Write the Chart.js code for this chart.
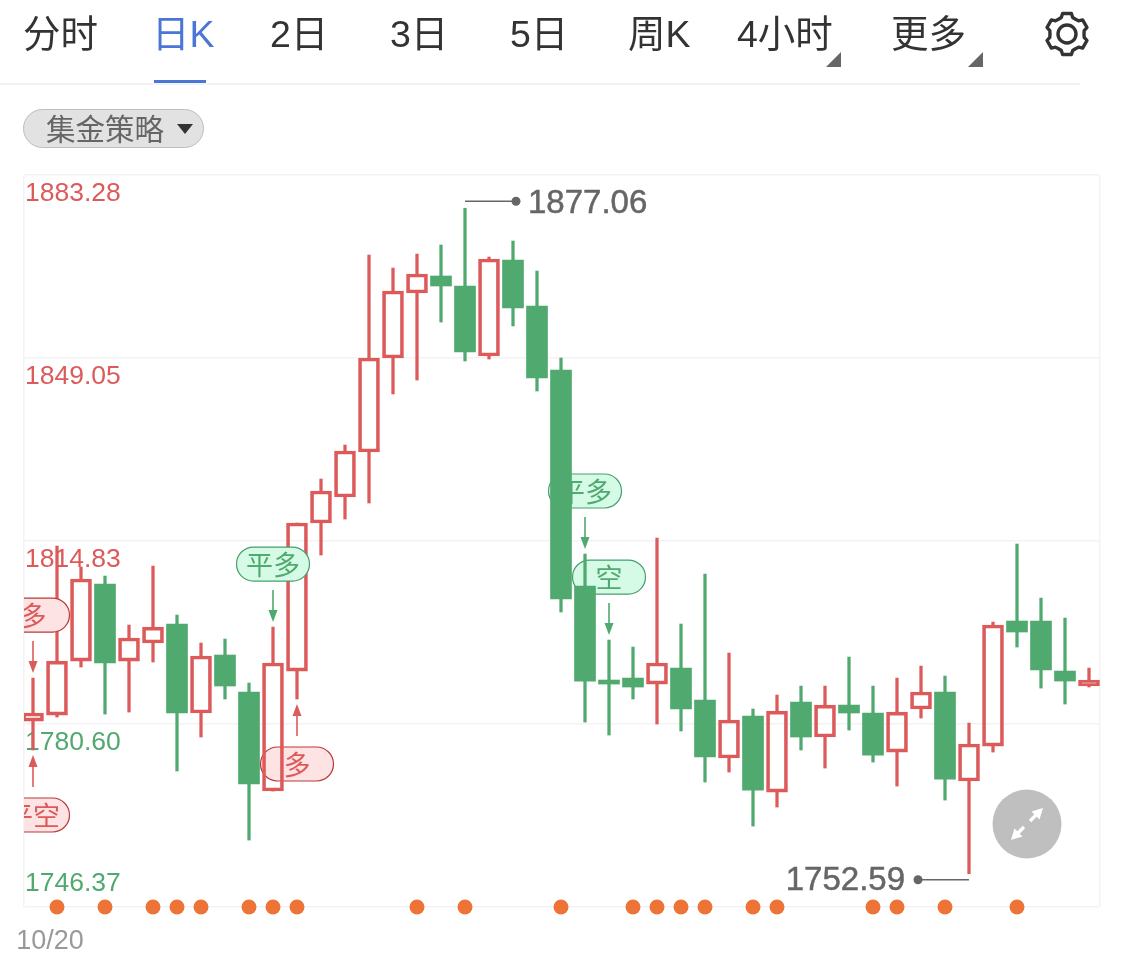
<!DOCTYPE html>
<html lang="zh">
<head>
<meta charset="utf-8">
<title>日K</title>
<script src="https://cdn.jsdelivr.net/npm/chart.js@4/dist/chart.umd.min.js"></script>
<style>
html,body{margin:0;padding:0;background:#fff;width:1125px;height:964px;overflow:hidden}
#wrap{position:relative;width:1125px;height:964px;font-family:"Liberation Sans","Noto Sans CJK SC",sans-serif}
canvas{position:absolute;left:0;top:0}
.tab{position:absolute;top:12px;font-size:37.5px;line-height:44px;color:#333;white-space:nowrap}
.tab.on{color:#4a76d6}
#bar{position:absolute;left:154px;top:80px;width:52px;height:3px;background:#4a76d6}
#sep{position:absolute;left:0;top:83px;width:1080px;height:2px;background:#f2f2f2}
.tri{position:absolute;width:15px;height:15px;background:#666;clip-path:polygon(100% 0,100% 100%,0 100%)}
#pill{position:absolute;left:23px;top:109px;width:179px;height:37px;border:1px solid #bdbdbd;border-radius:20px;background:#e2e2e2;color:#666;font-size:29.5px;line-height:39px}
#pill span{position:absolute;left:22px;top:0;white-space:nowrap}
#pill i{position:absolute;left:153px;top:14px;width:0;height:0;border-left:8px solid transparent;border-right:8px solid transparent;border-top:10px solid #333}
svg{position:absolute;left:0;top:0;pointer-events:none}
</style>
</head>
<body>
<div id="wrap">
  <canvas id="c" width="1125" height="964"></canvas>
  <div class="tab" style="left:23px">分时</div>
  <div class="tab on" style="left:152px">日K</div>
  <div class="tab" style="left:270px">2日</div>
  <div class="tab" style="left:390px">3日</div>
  <div class="tab" style="left:510px">5日</div>
  <div class="tab" style="left:628px">周K</div>
  <div class="tab" style="left:737px">4小时</div>
  <div class="tab" style="left:891px">更多</div>
  <div class="tri" style="left:826px;top:52px"></div>
  <div class="tri" style="left:968px;top:52px"></div>
  <div id="bar"></div><div id="sep"></div>
  <div id="pill"><span>集金策略</span><i></i></div>
  <svg width="1125" height="964" id="ic">
    <circle cx="1067" cy="34" r="9" fill="none" stroke="#333" stroke-width="3.4"/>
    <path id="gear" fill="none" stroke="#333" stroke-width="3.4" stroke-linejoin="round"/>
    <circle cx="1027" cy="824" r="34.5" fill="#bfbfbf"/>
    <line x1="1030" y1="821" x2="1037" y2="814" stroke="#fff" stroke-width="3.4"/>
    <line x1="1024" y1="827" x2="1017" y2="834" stroke="#fff" stroke-width="3.4"/>
    <polygon points="1043,808 1039.5,819.5 1031.5,811.5" fill="#fff"/>
    <polygon points="1011,840 1014.5,828.5 1022.5,836.5" fill="#fff"/>
  </svg>
</div>
<script>
// Daily candles
const opens  = [1781.15,1782.27,1792.37,1806.78,1792.37,1795.74,1799.30,1782.65,1793.50,1786.58,1768.06,1790.50,1818.19,1823.05,1831.47,1849.05,1861.21,1864.39,1862.52,1849.42,1867.38,1858.78,1846.81,1806.40,1788.82,1789.19,1788.07,1791.06,1785.08,1774.23,1782.09,1767.87,1784.70,1778.16,1784.14,1782.65,1775.35,1783.40,1786.58,1769.93,1776.47,1799.86,1799.86,1790.50,1787.70];
const closes = [1782.65,1792.37,1807.71,1792.00,1796.68,1798.73,1782.65,1793.31,1787.70,1769.37,1792.00,1818.19,1824.17,1831.65,1849.05,1861.58,1864.76,1862.52,1850.17,1867.57,1858.40,1845.31,1803.97,1788.63,1788.07,1787.51,1792.00,1783.40,1774.42,1781.34,1768.24,1783.02,1778.16,1784.14,1782.65,1774.79,1782.83,1786.58,1770.30,1776.85,1799.11,1797.80,1790.69,1788.63,1788.82];
const highs  = [1789.19,1813.88,1809.96,1808.27,1799.11,1810.14,1800.98,1795.74,1796.49,1788.26,1798.73,1818.19,1826.42,1832.78,1868.32,1865.88,1868.50,1870.19,1877.06,1867.94,1870.93,1865.32,1849.05,1812.39,1796.30,1794.99,1815.38,1799.30,1808.65,1793.87,1783.40,1786.01,1787.70,1787.70,1793.12,1787.70,1789.19,1791.44,1789.57,1780.78,1799.67,1814.26,1804.16,1800.42,1791.06];
const lows   = [1775.73,1781.90,1791.25,1782.46,1782.83,1792.19,1771.80,1778.16,1785.27,1758.89,1768.06,1785.27,1812.20,1818.93,1821.93,1842.32,1844.93,1855.78,1848.49,1848.86,1855.04,1842.88,1801.54,1780.96,1778.53,1785.27,1780.59,1779.28,1769.74,1771.61,1761.51,1765.06,1775.73,1772.36,1779.47,1773.48,1768.99,1781.71,1766.37,1752.59,1775.35,1794.99,1787.32,1784.33,1787.51];
const categories = ['10/20'];
const tickLabels = [1883.28,1849.05,1814.83,1780.60,1746.37];
const markerIndices = [1,3,5,6,7,9,10,11,16,18,22,25,26,27,28,30,31,35,36,38,41];
const signalIndices = [0,0,10,11,23,24];
const signalTexts   = ['多','平空','平多','多','平多','空'];
const highIndex = 18, lowIndex = 39;

const RED='#dc5a5a', GREEN='#50a96e', GRID='#f3f3f3', GREY='#666666';
const idx = opens.map((_,i)=>i);
const up = idx.filter(i=>closes[i]>=opens[i]);
const down = idx.filter(i=>closes[i]<opens[i]);
const upper = i=>({x:i,y:[Math.max(opens[i],closes[i]),highs[i]]});
const lower = i=>({x:i,y:[lows[i],Math.min(opens[i],closes[i])]});
const body  = i=>({x:i,y:[Math.min(opens[i],closes[i]),Math.max(opens[i],closes[i])]});
const barDs = (data,color,thick,fill,bw,order)=>({type:'bar',data,grouped:false,barThickness:thick,backgroundColor:fill,borderColor:color,borderWidth:bw,borderSkipped:false,order,minBarLength:0});

// gear icon
(function(){
  let d='';const cx=1067,cy=34;
  for(let k=0;k<6;k++){
    const a=(k*60-90)*Math.PI/180, s=Math.PI/180;
    [[17,-30],[17.5,-19],[21,-12],[21,12],[17.5,19]].forEach(([r,o])=>{
      const t=a+o*s; d+=(d?'L':'M')+(cx+r*Math.cos(t)).toFixed(1)+' '+(cy+r*Math.sin(t)).toFixed(1);
    });
  }
  document.getElementById('gear').setAttribute('d',d+'Z');
})();

function pill(ctx,area,cx,cy,text,rising){
  ctx.save();
  ctx.beginPath();ctx.rect(area.left,area.top,area.right-area.left,area.bottom-area.top);ctx.clip();
  ctx.beginPath();ctx.roundRect(cx-36.5,cy-17,73,34,17);
  ctx.fillStyle=rising?'#fde3e3':'#d5fbe6';ctx.fill();
  ctx.lineWidth=1.2;ctx.strokeStyle=rising?'#b83a3a':'#46a06a';ctx.stroke();
  ctx.fillStyle=rising?RED:GREEN;
  ctx.font='27px "Noto Sans CJK SC"';ctx.textAlign='center';ctx.textBaseline='middle';
  ctx.fillText(text,cx,cy+1);
  ctx.restore();
}
function arrow(ctx,x,tail,tip,color){
  const dir=tip>tail?1:-1;
  ctx.save();ctx.strokeStyle=color;ctx.fillStyle=color;ctx.lineWidth=1.6;
  ctx.beginPath();ctx.moveTo(x,tail);ctx.lineTo(x,tip-dir*10);ctx.stroke();
  ctx.beginPath();ctx.moveTo(x,tip);ctx.lineTo(x-4.5,tip-dir*12);ctx.lineTo(x+4.5,tip-dir*12);ctx.closePath();ctx.fill();
  ctx.restore();
}
function eachSignal(chart,fn){
  const {x,y}=chart.scales;
  signalIndices.forEach((i,n)=>{
    const text=signalTexts[n];
    const rising=n===0||n===1||n===3;
    const above=n===0||n===2||n===4||n===5;
    const base=y.getPixelForValue(above?highs[i]:lows[i]);
    const front=n===0||n===2;
    fn({cx:x.getPixelForValue(i),base,above,rising,text,front});
  });
}
function note(ctx,xPix,yPix,value,textRight){
  ctx.save();
  ctx.strokeStyle=GREY;ctx.fillStyle=GREY;ctx.lineWidth=1.4;
  const end=textRight?xPix+51:xPix-51;
  ctx.beginPath();ctx.moveTo(xPix,yPix);ctx.lineTo(end,yPix);ctx.stroke();
  ctx.beginPath();ctx.arc(end,yPix,4.5,0,Math.PI*2);ctx.fill();
  ctx.font='33px "Liberation Sans"';ctx.textBaseline='middle';
  ctx.textAlign=textRight?'left':'right';
  const tx=textRight?end+12:end-13, ty=yPix+(textRight?3:1);
  ctx.fillText(value.toFixed(2),tx,ty);
  ctx.lineWidth=0.5;ctx.strokeText(value.toFixed(2),tx,ty);
  ctx.restore();
}
const overlay={
  id:'overlay',
  beforeDatasetsDraw(chart){
    eachSignal(chart,s=>{
      if(!s.front) pill(chart.ctx,chart.chartArea,s.cx,s.base+(s.above?-63:65),s.text,s.rising);
    });
  },
  afterDatasetsDraw(chart){
    const {ctx,chartArea}=chart,{x,y}=chart.scales;
    eachSignal(chart,s=>{
      if(s.front) pill(ctx,chartArea,s.cx,s.base+(s.above?-63:65),s.text,s.rising);
      const color=s.rising?RED:GREEN;
      if(s.above) arrow(ctx,s.cx,s.base-37,s.base-5,color);
      else arrow(ctx,s.cx,s.base+37,s.base+5,color);
    });
    note(ctx,x.getPixelForValue(highIndex),y.getPixelForValue(highs[highIndex])-7,highs[highIndex],true);
    note(ctx,x.getPixelForValue(lowIndex),y.getPixelForValue(lows[lowIndex])+6,lows[lowIndex],false);
  }
};

const xMin=-0.375,xMax=44.458,yMin=tickLabels[4],yMax=tickLabels[0];
const axisFont={size:26.5,family:'"Liberation Sans"'};
new Chart(document.getElementById('c'),{
  data:{datasets:[
    {type:'line',data:markerIndices.map(i=>({x:i,y:yMin})),showLine:false,pointRadius:7.5,pointHoverRadius:7.5,pointBackgroundColor:'#ee7336',pointBorderWidth:0,clip:false,order:0},
    barDs(up.map(body),RED,21,'transparent',3,1),
    barDs(down.map(body),GREEN,21,GREEN,0,1),
    barDs(up.map(upper),RED,2.6,RED,0,2),
    barDs(up.map(lower),RED,2.6,RED,0,2),
    barDs(down.map(upper),GREEN,2.6,GREEN,0,2),
    barDs(down.map(lower),GREEN,2.6,GREEN,0,2)
  ]},
  options:{
    responsive:false,animation:false,
    layout:{padding:{left:24,right:25,top:175,bottom:0}},
    plugins:{legend:{display:false},tooltip:{enabled:false},title:{display:false}},
    scales:{
      x:{type:'linear',min:xMin,max:xMax,offset:false,
        afterBuildTicks:s=>{s.ticks=[{value:xMin},{value:0},{value:xMax}];},
        afterFit:s=>{s.height=57;},
        border:{display:false},
        grid:{offset:false,drawTicks:false,lineWidth:1.5,color:c=>c.tick&&c.tick.value===0?'transparent':GRID},
        ticks:{autoSkip:false,maxRotation:0,padding:18,labelOffset:17,color:'#999',font:{size:27,family:'"Liberation Sans"'},
          callback:v=>v===0?categories[0]:''}
      },
      y:{type:'linear',position:'left',min:yMin,max:yMax,
        afterBuildTicks:s=>{s.ticks=tickLabels.slice(0,4).map(v=>({value:v})).concat([{value:yMin}]);},
        afterFit:s=>{s.width=0;},
        border:{display:false},
        grid:{drawTicks:false,lineWidth:1.5,color:GRID},
        ticks:{mirror:true,padding:1,labelOffset:19,autoSkip:false,font:axisFont,
          color:c=>c.tick.value>1800?RED:GREEN,
          callback:v=>v===yMin?'':v.toFixed(2)}
      },
      y2:{type:'linear',position:'left',min:yMin,max:yMax,
        afterBuildTicks:s=>{s.ticks=[{value:yMin}];},
        afterFit:s=>{s.width=0;},
        border:{display:false},
        grid:{display:false,drawTicks:false},
        ticks:{mirror:true,padding:1,labelOffset:-23,autoSkip:false,font:axisFont,color:GREEN,callback:v=>v.toFixed(2)}
      }
    }
  },
  plugins:[overlay]
});
</script>
</body>
</html>
